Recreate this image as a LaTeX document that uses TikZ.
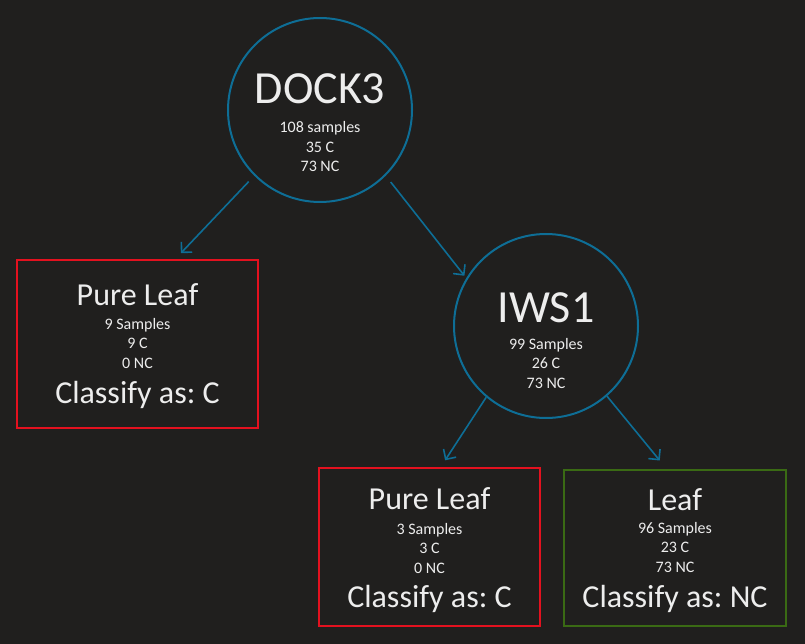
\documentclass[tikz,border=0pt]{standalone}
\usepackage{fontspec}
\setmainfont{Carlito}
\usetikzlibrary{arrows.meta}
\frenchspacing
\definecolor{bgdark}{HTML}{201F1E}
\definecolor{splitblue}{HTML}{0E6E96}
\definecolor{purered}{HTML}{E3111F}
\definecolor{leafgreen}{HTML}{3A6A14}
\definecolor{inktext}{HTML}{EDEDED}
\tikzset{every picture/.style={line width=0.75pt}}
\tikzset{
  splitnode/.style={circle, draw=splitblue, line width=2pt, minimum size=184pt, inner sep=0pt},
  leafbox/.style={rectangle, draw=#1, line width=2pt, inner sep=0pt},
  titletext/.style={text=inktext, inner sep=0pt, anchor=base, font=\fontsize{46}{46}\selectfont},
  leaftext/.style={text=inktext, inner sep=0pt, anchor=base, font=\fontsize{32}{32}\selectfont},
  countext/.style={text=inktext, inner sep=0pt, anchor=base, font=\fontsize{16}{19.5}\selectfont, align=center},
  link/.style={draw=splitblue, line width=1.6pt, -{Straight Barb[length=7.5pt,width=15pt]}}
}

\begin{document}
\begin{tikzpicture}[x=1pt,y=1pt,yscale=-1,xscale=1]
\fill[bgdark] (0,0) rectangle (805,644);
\useasboundingbox (0,0) rectangle (805,644);

% Split DOCK3
\node[splitnode] (dock) at (320,110) {};
\node[titletext] (dockname) at (320,104) {DOCK3};
\node[countext] (dockcount) at (320,172) {108 samples\\35 C\\73 NC};

% Split IWS1
\node[splitnode] (iws) at (546,326) {};
\node[titletext] (iwsname) at (546,322) {IWS1};
\node[countext] (iwscount) at (546,388) {99 Samples\\26 C\\73 NC};

% Leaf left
\node[leafbox=purered, minimum width=241pt, minimum height=168pt] (pureA) at (137.5,344) {};
\node[leaftext] (pureAname) at (137.5,305) {Pure Leaf};
\node[countext] (pureAcount) at (137.5,368) {9 Samples\\9 C\\0 NC};
\node[leaftext] (pureAclass) at (137.5,403) {Classify as: C};

% Leaf middle
\node[leafbox=purered, minimum width=221pt, minimum height=158pt] (pureB) at (429.5,547) {};
\node[leaftext] (pureBname) at (429.5,509) {Pure Leaf};
\node[countext] (pureBcount) at (429.5,573) {3 Samples\\3 C\\0 NC};
\node[leaftext] (pureBclass) at (429.5,607) {Classify as: C};

% Leaf right
\node[leafbox=leafgreen, minimum width=222pt, minimum height=156pt] (leafC) at (675,548) {};
\node[leaftext] (leafCname) at (675,510) {Leaf};
\node[countext] (leafCcount) at (675,572) {96 Samples\\23 C\\73 NC};
\node[leaftext] (leafCclass) at (675,607) {Classify as: NC};

% Connections
\draw[link, shorten <=8pt, shorten >=8pt] (dock.225) -- (pureA.66);
\draw[link, shorten <=8pt, shorten >=3pt] (dock.-45) -- (iws.149);
\draw[link, shorten >=8pt] (iws.230) -- (pureB.82);
\draw[link, shorten >=11pt] (iws.311) -- (leafC.96);

\end{tikzpicture}
\end{document}
